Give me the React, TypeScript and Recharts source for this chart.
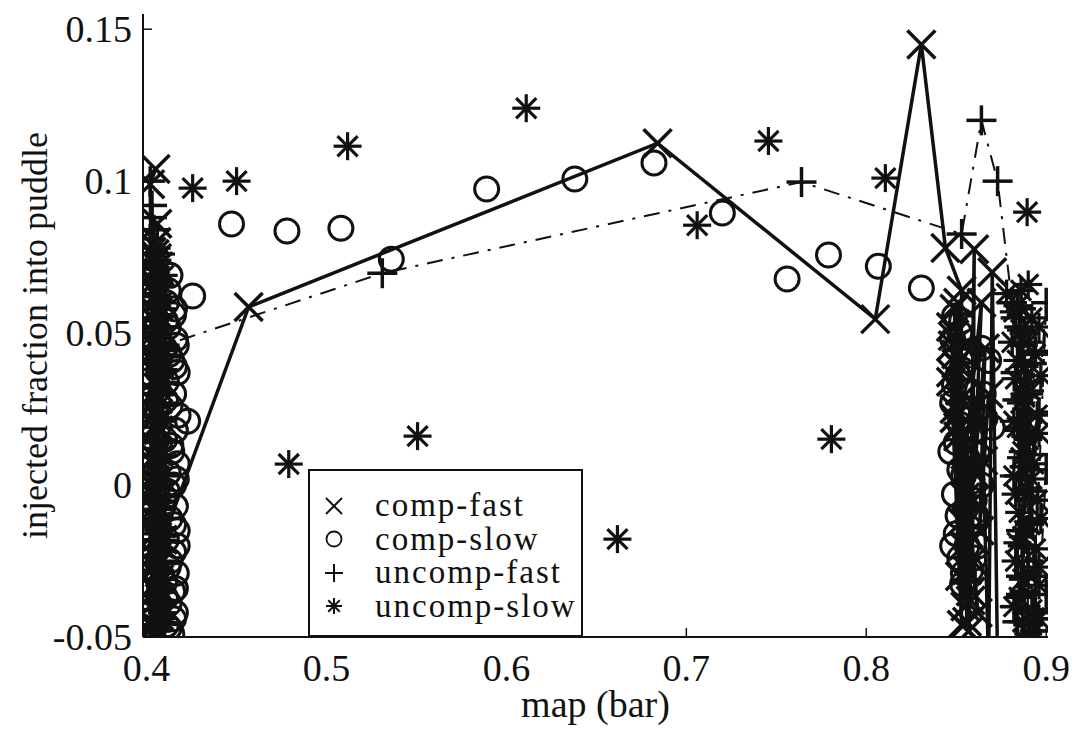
import React from 'react';
import { ScatterChart, Scatter, XAxis, YAxis } from 'recharts';

const FONT = "'Liberation Serif', 'Times New Roman', Times, 'DejaVu Serif', serif";
const INK = '#111';

const X_TICKS = [0.4, 0.5, 0.6, 0.7, 0.8, 0.9];
const Y_TICKS = [-0.05, 0, 0.05, 0.1, 0.15];
const X_DOMAIN = [0.398, 0.901];
const Y_DOMAIN = [-0.05, 0.155];

const SERIES_NAMES = ['comp-fast', 'comp-slow', 'uncomp-fast', 'uncomp-slow'];

// [map (bar), injected fraction], in plotting order
const compFast: [number, number][] = [
  [0.405, 0.104], [0.402, 0.099], [0.4045, -0.05], [0.406, 0.086], [0.404, -0.046],
  [0.4055, 0.08], [0.407, -0.043], [0.4045, 0.076], [0.4035, -0.039], [0.4065, 0.072],
  [0.405, -0.035], [0.404, 0.067], [0.407, -0.031], [0.4055, 0.063], [0.4045, -0.027],
  [0.4065, 0.059], [0.4035, -0.023], [0.405, 0.054], [0.407, -0.019], [0.404, 0.05],
  [0.406, -0.015], [0.405, 0.045], [0.4035, -0.011], [0.407, 0.041], [0.4045, -0.007],
  [0.406, 0.036], [0.404, -0.003], [0.4065, 0.032], [0.405, 0.001], [0.404, 0.027],
  [0.407, 0.005], [0.4055, 0.023], [0.4045, 0.009], [0.4065, 0.018], [0.405, 0.013],
  [0.404, 0.07], [0.4055, -0.048], [0.4065, 0.062], [0.404, -0.033], [0.405, 0.057],
  [0.407, -0.025], [0.4045, 0.048], [0.406, -0.017], [0.4035, 0.043], [0.4055, -0.009],
  [0.407, 0.034], [0.4045, -0.001], [0.406, 0.029], [0.404, 0.007], [0.4055, 0.02],
  [0.4065, 0.011], [0.409, -0.018],
  [0.4567, 0.0586], [0.684, 0.1125], [0.805, 0.0546], [0.8306, 0.145], [0.844, 0.078],
  [0.853, 0.064], [0.852, -0.03], [0.849, 0.058], [0.855, -0.04], [0.847, 0.052],
  [0.854, -0.02], [0.848, 0.046], [0.856, -0.045], [0.85, 0.04], [0.853, -0.012],
  [0.847, 0.034], [0.851, 0.06], [0.856, -0.028], [0.848, 0.049], [0.858, -0.038],
  [0.85, 0.043], [0.853, -0.046], [0.847, 0.037], [0.857, -0.016], [0.852, 0.031],
  [0.855, -0.004], [0.849, 0.025], [0.858, 0.006], [0.851, 0.019],
  [0.857, -0.048], [0.86, 0.0776], [0.859, -0.025], [0.852, 0.028],
  [0.858, -0.035], [0.849, 0.022], [0.86, -0.005], [0.851, 0.016], [0.862, -0.042],
  [0.855, 0.01], [0.864, 0.06], [0.86, 0.004], [0.866, 0.045], [0.863, -0.015],
  [0.868, 0.03], [0.865, 0.008], [0.868, -0.06], [0.87, 0.07], [0.873, -0.06],
];

const compSlow: [number, number][] = [
  [0.413, 0.069], [0.4256, 0.0622], [0.411, 0.06], [0.415, 0.056], [0.412, 0.052],
  [0.416, 0.048], [0.41, 0.045], [0.414, 0.041], [0.417, 0.037], [0.411, 0.034],
  [0.415, 0.03], [0.413, 0.026], [0.4228, 0.021], [0.416, 0.018], [0.41, 0.015],
  [0.414, 0.011], [0.417, 0.007], [0.412, 0.004], [0.415, 0], [0.41, -0.004],
  [0.416, -0.007], [0.413, -0.011], [0.417, -0.015], [0.411, -0.018], [0.415, -0.022],
  [0.413, -0.025], [0.4165, -0.029], [0.41, -0.032], [0.4145, -0.035], [0.4125, -0.039],
  [0.416, -0.042], [0.411, -0.046], [0.414, -0.049],
  [0.412, 0.064], [0.4155, 0.058], [0.4105, 0.054], [0.4165, 0.046], [0.4125, 0.043],
  [0.4155, 0.039], [0.4105, 0.028], [0.4175, 0.023], [0.4135, 0.013], [0.4165, 0.002],
  [0.4115, -0.002], [0.415, -0.013], [0.417, -0.02], [0.412, -0.027], [0.416, -0.034],
  [0.4105, -0.037], [0.415, -0.044], [0.4125, -0.047],
  [0.4472, 0.0859], [0.478, 0.0836], [0.508, 0.0845], [0.536, 0.0743], [0.589, 0.0974],
  [0.638, 0.1007], [0.682, 0.106], [0.72, 0.0895], [0.756, 0.0678], [0.779, 0.0757],
  [0.8067, 0.072], [0.8306, 0.0648],
  [0.849, 0.0556], [0.852, 0.05], [0.85, 0.045], [0.856, 0.041], [0.851, 0.036],
  [0.857, 0.031], [0.848, 0.027], [0.854, 0.022], [0.86, 0.018], [0.85, 0.014],
  [0.856, 0.009], [0.852, 0.005], [0.858, 0.001], [0.849, -0.003], [0.855, -0.008],
  [0.861, -0.012], [0.85, -0.016], [0.856, -0.02], [0.852, -0.024], [0.858, -0.028],
  [0.8535, -0.0326], [0.868, 0.041], [0.87, 0.019], [0.861, -0.01], [0.865, 0.03], [0.864, 0],
  [0.853, 0.054], [0.848, 0.048], [0.858, 0.044], [0.853, 0.038], [0.849, 0.033],
  [0.859, 0.025], [0.852, 0.02], [0.847, 0.011], [0.858, 0.007], [0.854, 0.003],
  [0.86, -0.005], [0.851, -0.01], [0.857, -0.014], [0.848, -0.02], [0.86, -0.024],
  [0.854, -0.029], [0.862, 0.01], [0.866, 0.022], [0.864, 0.045], [0.862, -0.02],
];

const uncompFast: [number, number][] = [
  [0.402, 0.1], [0.4035, -0.05], [0.403, 0.092], [0.402, -0.046], [0.404, 0.084],
  [0.4025, -0.041], [0.405, 0.078], [0.402, -0.036], [0.4035, 0.072], [0.4045, -0.031],
  [0.4025, 0.066], [0.403, -0.026], [0.405, 0.06], [0.402, -0.021], [0.404, 0.055],
  [0.403, -0.016], [0.4025, 0.05], [0.4045, -0.011], [0.4035, 0.044], [0.402, -0.006],
  [0.405, 0.038], [0.403, -0.001], [0.4025, 0.032], [0.404, 0.004], [0.402, 0.027],
  [0.4035, 0.01], [0.4045, 0.021], [0.4025, 0.015],
  [0.403, 0.088], [0.4045, -0.048], [0.402, 0.081], [0.404, -0.038], [0.403, 0.069],
  [0.405, -0.028], [0.4025, 0.063], [0.404, -0.018], [0.403, 0.052], [0.405, -0.008],
  [0.4025, 0.041], [0.404, 0.002], [0.4035, 0.03], [0.403, 0.012], [0.41, 0.046],
  [0.531, 0.0697], [0.764, 0.0997], [0.853, 0.0826], [0.864, 0.12], [0.873, 0.1],
  [0.881, 0.06], [0.884, -0.045], [0.886, 0.058], [0.888, -0.035], [0.885, 0.052],
  [0.89, -0.025], [0.887, 0.046], [0.883, -0.04], [0.892, 0.04], [0.886, -0.015],
  [0.889, 0.034], [0.894, -0.03], [0.884, 0.028], [0.891, -0.005], [0.887, 0.022],
  [0.895, -0.044], [0.889, 0.016], [0.885, 0.003], [0.893, 0.01],
  [0.883, 0.055], [0.89, -0.046], [0.888, 0.05], [0.886, -0.03], [0.894, 0.044],
  [0.887, -0.02], [0.883, 0.037], [0.892, -0.012], [0.89, 0.03], [0.886, -0.036],
  [0.896, 0.024], [0.888, 0.006], [0.885, 0.018], [0.892, -0.002],
  [0.9, 0.06], [0.893, -0.042], [0.9, 0.005], [0.895, -0.048], [0.9, -0.036],
];

const uncompSlow: [number, number][] = [
  [0.405, 0.078], [0.408, 0.076], [0.4045, 0.071], [0.407, 0.067], [0.4055, 0.062],
  [0.4085, 0.058], [0.4045, 0.054], [0.4065, 0.049], [0.409, 0.045], [0.405, 0.041],
  [0.4075, 0.036], [0.406, 0.032], [0.4085, 0.027], [0.4045, 0.023], [0.407, 0.019],
  [0.4055, 0.014], [0.409, 0.01], [0.405, 0.006], [0.4075, 0.001], [0.406, -0.003],
  [0.4085, -0.008], [0.4045, -0.012], [0.407, -0.016], [0.4055, -0.021], [0.409, -0.025],
  [0.405, -0.029], [0.4075, -0.034], [0.406, -0.038], [0.4085, -0.042], [0.405, -0.046],
  [0.407, -0.05],
  [0.406, 0.074], [0.4095, 0.069], [0.405, 0.06], [0.408, 0.052], [0.406, 0.043],
  [0.4095, 0.038], [0.405, 0.03], [0.408, 0.021], [0.4065, 0.012], [0.4095, 0.003],
  [0.405, -0.006], [0.408, -0.014], [0.4065, -0.023], [0.4095, -0.031], [0.405, -0.036],
  [0.408, -0.044], [0.406, -0.048],
  [0.4256, 0.0977], [0.45, 0.1], [0.5117, 0.1115], [0.611, 0.124], [0.706, 0.0855],
  [0.7456, 0.1132], [0.8106, 0.101], [0.8894, 0.0898], [0.479, 0.0069], [0.5506, 0.0161],
  [0.6617, -0.0178], [0.7806, 0.0151],
  [0.878, 0.063], [0.89, 0.066], [0.884, 0.059], [0.892, 0.055], [0.886, 0.051],
  [0.881, 0.047], [0.894, 0.043], [0.888, 0.039], [0.883, 0.035], [0.891, 0.031],
  [0.886, 0.027], [0.895, 0.023], [0.884, 0.019], [0.89, 0.015], [0.887, 0.011],
  [0.893, 0.007], [0.882, 0.003], [0.889, -0.001], [0.895, -0.005], [0.885, -0.009],
  [0.891, -0.013], [0.887, -0.017], [0.894, -0.021], [0.883, -0.025], [0.89, -0.029],
  [0.896, -0.033], [0.885, -0.037], [0.892, -0.041], [0.887, -0.045], [0.893, -0.048],
  [0.888, -0.051],
  [0.886, 0.064], [0.882, 0.057], [0.896, 0.052], [0.89, 0.047], [0.884, 0.041],
  [0.897, 0.036], [0.888, 0.029], [0.882, 0.021], [0.896, 0.017], [0.886, 0.009],
  [0.892, 0.002], [0.883, -0.003], [0.897, -0.011], [0.888, -0.015], [0.884, -0.019],
  [0.896, -0.027], [0.887, -0.031], [0.882, -0.04], [0.896, -0.044], [0.89, -0.049],
];

const toPoints = (rows: [number, number][]) => rows.map(([x, y]) => ({ x, y }));

type MarkProps = { cx?: number; cy?: number; r?: number; w?: number };

function Cross({ cx = 0, cy = 0, r = 14, w = 3.5 }: MarkProps) {
  return (
    <g stroke={INK} strokeWidth={w}>
      <line x1={cx - r} y1={cy - r} x2={cx + r} y2={cy + r} />
      <line x1={cx - r} y1={cy + r} x2={cx + r} y2={cy - r} />
    </g>
  );
}

function Ring({ cx = 0, cy = 0, r = 12, w = 3 }: MarkProps) {
  return <circle cx={cx} cy={cy} r={r} fill="none" stroke={INK} strokeWidth={w} />;
}

function Plus({ cx = 0, cy = 0, r = 15, w = 3.5 }: MarkProps) {
  return (
    <g stroke={INK} strokeWidth={w}>
      <line x1={cx - r} y1={cy} x2={cx + r} y2={cy} />
      <line x1={cx} y1={cy - r} x2={cx} y2={cy + r} />
    </g>
  );
}

function Star({ cx = 0, cy = 0, r = 14, w = 3.2 }: MarkProps) {
  const d = r * 0.72;
  return (
    <g stroke={INK} strokeWidth={w}>
      <line x1={cx} y1={cy - r} x2={cx} y2={cy + r} />
      <line x1={cx - r} y1={cy} x2={cx + r} y2={cy} />
      <line x1={cx - d} y1={cy - d} x2={cx + d} y2={cy + d} />
      <line x1={cx - d} y1={cy + d} x2={cx + d} y2={cy - d} />
    </g>
  );
}

const textStyle = { fontFamily: FONT, fill: INK };

function BottomTick({ x, y, payload }: any) {
  return (
    <g>
      <line x1={x} x2={x} y1={y} y2={y - 9} stroke={INK} strokeWidth={1.5} />
      <text x={x} y={y + 44} textAnchor="middle" fontSize={38} {...textStyle}>
        {String(payload.value)}
      </text>
    </g>
  );
}

function TopTick({ x, y }: any) {
  return <line x1={x} x2={x} y1={y} y2={y + 9} stroke={INK} strokeWidth={1.5} />;
}

function LeftTick({ x, y, payload }: any) {
  return (
    <g>
      <line x1={x} x2={x + 9} y1={y} y2={y} stroke={INK} strokeWidth={1.5} />
      <text x={x - 11} y={y + 13} textAnchor="end" fontSize={38} {...textStyle}>
        {String(payload.value)}
      </text>
    </g>
  );
}

function RightTick({ x, y }: any) {
  return <line x1={x} x2={x - 9} y1={y} y2={y} stroke={INK} strokeWidth={1.5} />;
}

function XLabel({ viewBox }: any) {
  return (
    <text x={viewBox.x + viewBox.width / 2} y={viewBox.y + 80} textAnchor="middle" fontSize={38} {...textStyle}>
      map (bar)
    </text>
  );
}

function YLabel({ viewBox }: any) {
  const cx = viewBox.x + 4;
  const cy = viewBox.y + viewBox.height / 2 + 10;
  return (
    <text transform={`translate(${cx},${cy}) rotate(-90)`} textAnchor="middle" fontSize={36} {...textStyle}>
      injected fraction into puddle
    </text>
  );
}

const LEGEND_MARKS = [
  <Cross r={8} w={2} />,
  <Ring r={7.5} w={1.8} />,
  <Plus r={9} w={2} />,
  <Star r={8} w={2} />,
];

function LegendBox() {
  return (
    <div
      style={{
        position: 'absolute', left: 308, top: 469, width: 275, height: 168,
        boxSizing: 'border-box', border: `2px solid ${INK}`, background: '#fff',
        paddingTop: 18, fontFamily: FONT, fontSize: 33, letterSpacing: 2, color: INK,
        whiteSpace: 'nowrap', overflow: 'visible',
      }}
    >
      {SERIES_NAMES.map((name, i) => (
        <div key={name} style={{ display: 'flex', alignItems: 'center', height: 33.5, lineHeight: '33.5px' }}>
          <svg width={24} height={24} style={{ marginLeft: 12, marginRight: 29, flex: 'none' }}>
            {React.cloneElement(LEGEND_MARKS[i], { cx: 12, cy: 12 })}
          </svg>
          <span>{name}</span>
        </div>
      ))}
    </div>
  );
}

export default function App() {
  return (
    <div style={{ position: 'absolute', left: 0, top: 0, width: 1076, height: 731, background: '#fff' }}>
      <ScatterChart width={1076} height={731} margin={{ top: 14, right: 28, bottom: 0, left: 43 }}>
        <XAxis
          type="number" dataKey="x" domain={X_DOMAIN} ticks={X_TICKS} interval={0} allowDataOverflow
          height={94} tickSize={0} tickMargin={0} tickLine={false} tick={<BottomTick />}
          axisLine={{ stroke: INK, strokeWidth: 2 }} label={(p: any) => <XLabel {...p} />}
        />
        <XAxis
          xAxisId="top" orientation="top" type="number" domain={X_DOMAIN} ticks={X_TICKS} interval={0}
          allowDataOverflow height={0} tickSize={0} tickMargin={0} tickLine={false} tick={<TopTick />}
          axisLine={{ stroke: INK, strokeWidth: 2 }}
        />
        <YAxis
          type="number" dataKey="y" domain={Y_DOMAIN} ticks={Y_TICKS} interval={0} allowDataOverflow
          width={100} tickSize={0} tickMargin={0} tickLine={false} tick={<LeftTick />}
          axisLine={{ stroke: INK, strokeWidth: 2 }} label={(p: any) => <YLabel {...p} />}
        />
        <YAxis
          yAxisId="right" orientation="right" type="number" domain={Y_DOMAIN} ticks={Y_TICKS} interval={0}
          allowDataOverflow width={0} tickSize={0} tickMargin={0} tickLine={false} tick={<RightTick />}
          axisLine={{ stroke: INK, strokeWidth: 2 }}
        />
        <Scatter
          name="comp-fast" data={toPoints(compFast)} fill={INK} isAnimationActive={false}
          line={{ stroke: INK, strokeWidth: 3.5 }} lineType="joint"
          shape={(p: any) => <Cross cx={p.cx} cy={p.cy} />}
        />
        <Scatter
          name="comp-slow" data={toPoints(compSlow)} fill={INK} isAnimationActive={false}
          shape={(p: any) => <Ring cx={p.cx} cy={p.cy} />}
        />
        <Scatter
          name="uncomp-fast" data={toPoints(uncompFast)} fill={INK} isAnimationActive={false}
          line={{ stroke: INK, strokeWidth: 2, strokeDasharray: '16 9 3 9' }} lineType="joint"
          shape={(p: any) => <Plus cx={p.cx} cy={p.cy} />}
        />
        <Scatter
          name="uncomp-slow" data={toPoints(uncompSlow)} fill={INK} isAnimationActive={false}
          shape={(p: any) => <Star cx={p.cx} cy={p.cy} />}
        />
      </ScatterChart>
      <LegendBox />
    </div>
  );
}
